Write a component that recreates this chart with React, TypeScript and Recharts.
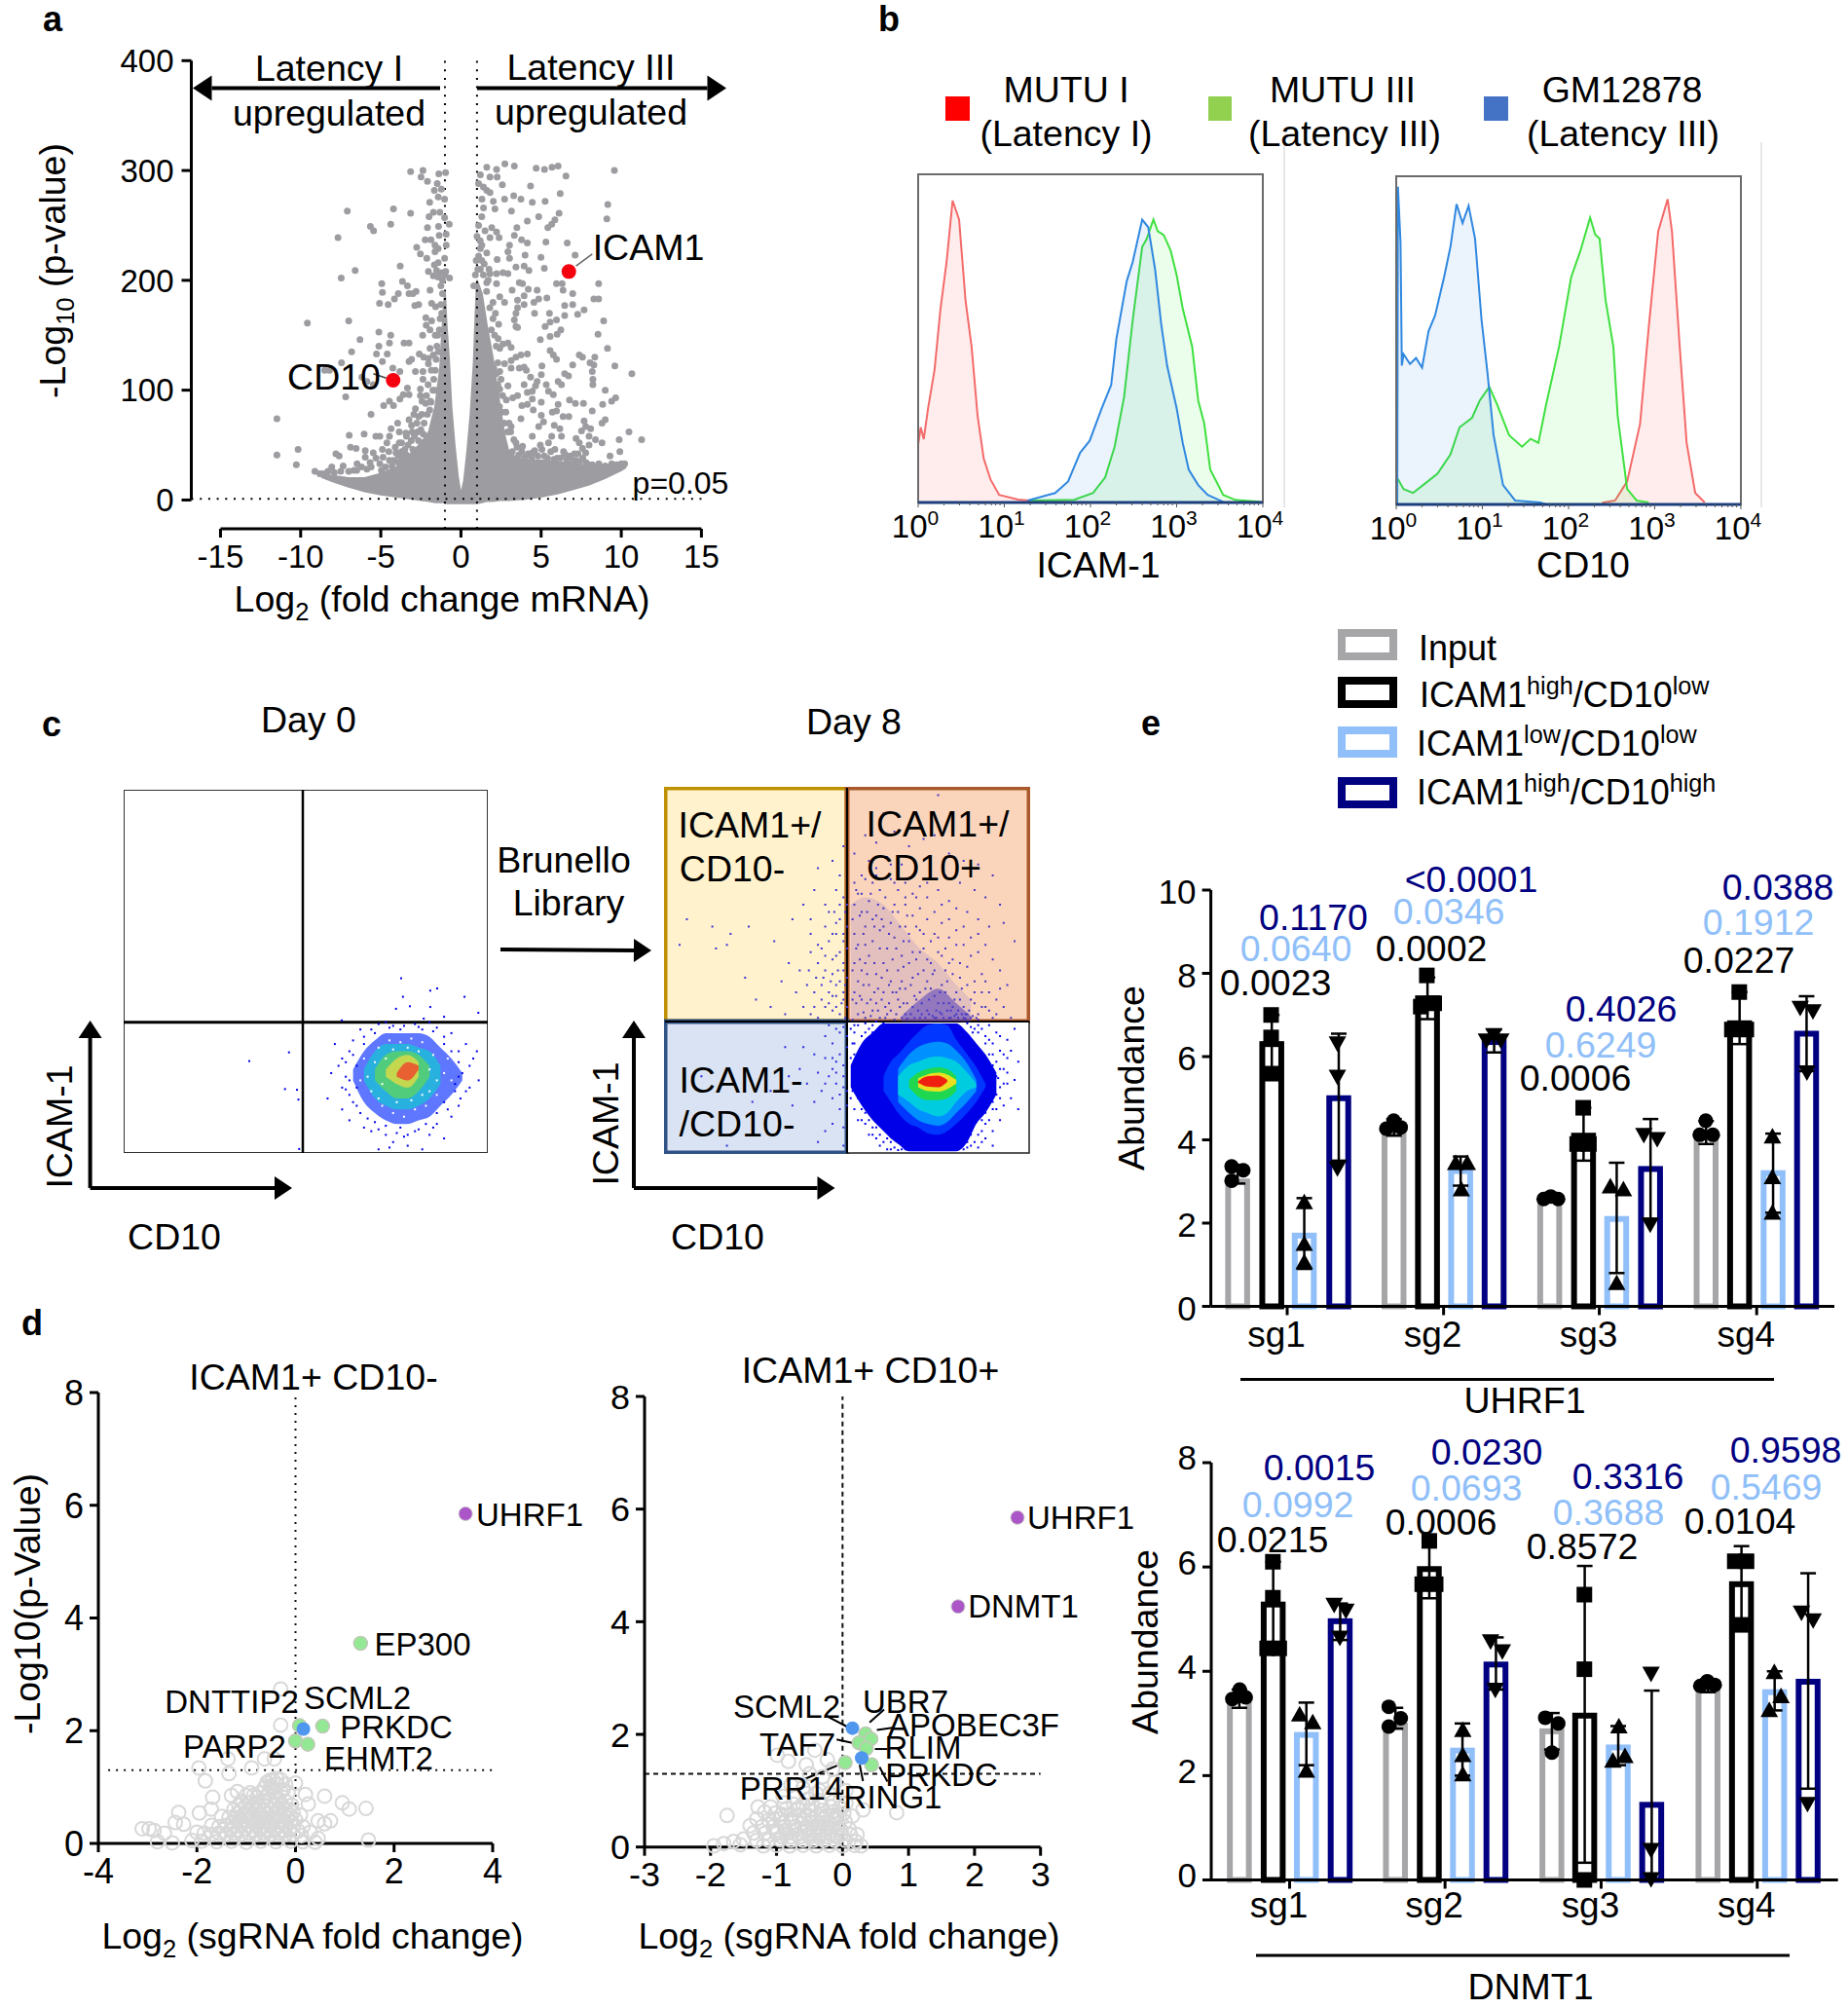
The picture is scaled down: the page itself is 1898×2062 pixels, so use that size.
import React from 'react';
import {
  ComposedChart, Area, Bar, Scatter, XAxis, YAxis, ReferenceLine, ReferenceArea, ErrorBar,
} from 'recharts';

const FONT = '"Liberation Sans", Arial, sans-serif';

// panel a: volcano, log2 fold change against -log10 p
const volcanoBandX = [-8.7, -8, -7, -6, -5, -4, -3, -2.5, -2, -1.6, -1.3, -1.1, -1, -0.9, -0.75, -0.6, -0.4, -0.2, -0.05, 0.05, 0.2, 0.4, 0.6, 0.8, 0.9, 1, 1.3, 1.6, 2, 2.4, 2.7, 3, 4, 5, 6, 7, 8, 9, 10, 10.3];
const volcanoBandLow = [21, 17, 12, 8, 5, 3, 1, 0, -1, -2, -2, -2, -3, -3, -3, -3, -3, -3, -3, -3, -3, -3, -3, -3, -3, -3, -2, -1, -1, 0, 0, 0, 1, 3, 6, 10, 14, 20, 27, 30];
const volcanoBandHigh = [24, 22, 20, 20, 24, 30, 44, 52, 62, 85, 120, 170, 190, 160, 128, 85, 50, 22, 8, 8, 18, 45, 78, 125, 165, 200, 188, 160, 128, 88, 60, 42, 36, 36, 34, 34, 30, 30, 33, 34];
const volcanoLeft = [[-3.14,299],[-2.37,300],[-2.49,294],[-2.09,290],[-1.38,297],[-0.96,298],[-1.48,288],[-1.66,282],[-1.22,283],[-1.42,276],[-1.95,271],[-1.02,274],[-4.21,265],[-7.09,263],[-3.14,261],[-1.72,262],[-1.99,258],[-1.32,262],[-1.02,257],[-4.38,251],[-5.65,249],[-5.45,245],[-0.73,251],[-1.4,249],[-2.09,248],[-1.36,241],[-0.92,242],[-7.67,239],[-2.23,237],[-1.87,237],[-1.62,232],[-2.76,230],[-1.42,229],[-0.92,232],[-2.53,224],[-2.13,220],[-1.62,226],[-1.02,220],[-1.66,214],[-1.42,216],[-3.79,213],[-6.6,209],[-2.03,208],[-1.52,209],[-1.22,207],[-1.72,204],[-1.42,203],[-1.02,205],[-0.71,202],[-7.47,202],[-3.65,199],[-3.34,195],[-4.94,197],[-4.9,189],[-3.91,188],[-3.24,188],[-3,188],[-2.8,190],[-1.93,191],[-4.15,183],[-5.08,179],[-4.54,178],[-2.88,177],[-2.64,178],[-1.83,179],[-1.58,176],[-2.19,166],[-1.83,163],[-9.58,161],[-7,163],[-2.17,159],[-1.93,155],[-5.12,153],[-4.38,150],[-2.39,150],[-3.55,143],[-3.24,143],[-4.46,143],[-6.3,146],[-5.12,140],[-6.82,135],[-5.27,133],[-4.6,133],[-1.93,138],[-2.6,133],[-2.33,130],[-2.03,129],[-3.08,128],[-4.9,126],[-7.45,125],[-3.24,126],[-2.03,124],[-4.25,120],[-3.81,117],[-8.5,118],[-8.2,118],[-2.84,117],[-2.37,117],[-6.18,112],[-2.37,110],[-5.87,108],[-5.47,105],[-2.53,101],[-3.34,102],[-3.6,96],[-3.81,92],[-3.24,96],[-2.53,95],[-2.43,90],[-7.19,94],[-4.82,86],[-4.46,90],[-4.21,86],[-1.87,89],[-5.61,78],[-2.84,83],[-2.94,78],[-3.24,73],[-2.64,76],[-11.48,74],[-3.95,70],[-3.08,68],[-4.36,65],[-3.85,62],[-6.04,60],[-6.97,59],[-5.31,58],[-5.06,58],[-4.46,58],[-3.44,61],[-4.62,52],[-3.85,52],[-6.89,48],[-6.54,47],[-10.16,46],[-5.97,45],[-11.48,41],[-7.8,42],[-7.6,40],[-5.47,43],[-4.86,39],[-4.05,43],[-5.97,39],[-6.48,33],[-10.27,32],[-8.06,30],[-7.35,31],[-5.67,34],[-5.06,33],[-4.46,36],[-6.68,27],[-9.11,26],[-8.8,24],[-8.6,24],[-5.87,28],[-4.96,27],[-3.65,38],[-4.25,25]];
const volcanoLeftDense = [[-1.45,150],[-1.5,140],[-1.55,128],[-1.4,135],[-1.3,165],[-1.2,170],[-1.25,178],[-1.15,188],[-1.35,155],[-1.6,118],[-1.7,110],[-1.75,100],[-1.9,90],[-1.95,82],[-2.1,78],[-2.3,70],[-2.5,64],[-2.7,62],[-2.9,58],[-3.1,54],[-3.3,50],[-3.5,46],[-3.7,44],[-3.9,40],[-4.2,36],[-1.15,200],[-0.95,208],[-1.25,195],[-1.6,150],[-1.72,132],[-1.85,118],[-1.62,100],[-2.15,95],[-2.05,105],[-2.2,88],[-2.45,78],[-2.75,70],[-3.05,62],[-3.4,58],[-3.7,52],[-4.1,48],[-4.5,44],[-4.9,46],[-5.3,38],[-5.6,30],[-6.2,30],[-6.5,27],[-7,26],[-7.5,26],[-7.9,25],[-8.3,26],[-4.7,30],[-4.3,31],[-3.9,34],[-3.4,41],[-3,46],[-2.65,54],[-2.35,60]];
const volcanoRight = [[2.74,306],[3.33,304],[2.22,301],[4.69,302],[5.21,301],[5.68,303],[6.06,304],[9.57,300],[6.55,295],[1.61,303],[1.21,296],[1.81,294],[2.26,294],[2.58,287],[4.34,286],[1.61,282],[1.81,280],[6.19,279],[3.29,277],[3.74,274],[2.72,274],[4.45,271],[5.25,272],[1.31,274],[2.02,272],[1.41,266],[2.12,265],[9.16,269],[3.15,263],[6.12,261],[4.85,258],[9.1,256],[5.86,255],[4.14,254],[5.66,251],[5.42,248],[3.49,248],[1.92,248],[2.22,244],[3.33,241],[1,240],[2.38,239],[1.81,239],[3.78,237],[4.14,234],[5.3,235],[6.63,234],[3.03,232],[2.93,226],[1.21,229],[1.61,225],[7.12,223],[4,223],[4.99,221],[3.03,220],[2.26,219],[3.94,213],[3.43,212],[5.2,211],[4.24,209],[1.21,210],[2.22,206],[2.62,207],[2.93,206],[1.81,206],[1.61,198],[2.22,197],[8.59,197],[3.64,198],[3.84,197],[5.96,197],[6.31,197],[6.37,191],[6.97,188],[3.19,191],[4.2,192],[4.75,191],[0.8,195],[3.94,186],[3.53,182],[2.42,185],[2.72,180],[5.36,184],[4.85,183],[4.55,180],[8.29,183],[8.59,183],[6.97,178],[6.47,177],[3.94,178],[3.53,175],[7.68,173],[3.43,170],[4.59,170],[5.52,170],[7.28,169],[6.47,168],[3.33,164],[5.96,164],[5.56,162],[8.9,163],[5.25,158],[3.43,158],[3.53,157],[6.23,155],[8.55,151],[5.56,149],[6,151],[4.95,146],[2.32,147],[2.62,142],[2.93,143],[3.13,139],[2.42,138],[9.14,138],[5.56,136],[5.76,132],[4.14,133],[3.74,132],[3.43,130],[7.38,132],[7.58,130],[5.96,128],[8.35,130],[3.13,127],[2.72,124],[8.05,125],[8.29,123],[6.97,123],[5.05,122],[9.6,122],[3.13,120],[3.94,121],[4.08,118],[3.64,120],[2.42,117],[6.47,115],[6.71,113],[10.66,115],[8.19,117],[5.01,114],[4.34,112],[8.23,110],[4.75,108],[6.06,108],[6.27,105],[5.32,105],[3.94,105],[8.23,105],[4.65,104],[2.93,104],[2.42,101],[2.22,98],[4.45,99],[4.14,98],[9,100],[5.46,99],[5.76,96],[3.53,95],[3.23,93],[2.83,91],[4.45,92],[5.01,89],[6.77,91],[7.14,88],[7.64,88],[9.65,93],[9.4,90],[8.84,87],[4.14,87],[6.06,87],[3.8,86],[5.96,81],[5.7,80],[4.51,82],[8.19,81],[5.01,77],[6.37,76],[6.73,76],[3.74,74],[9,73],[8.8,70],[7.68,72],[5.15,71],[4.85,67],[5.82,68],[6.17,65],[3.13,67],[7.78,67],[8.09,65],[7.52,63],[10.48,62],[11.27,55],[9.87,55],[4.45,58],[5.66,58],[6.27,58],[7.99,58],[8.39,55],[7.18,56],[8.8,52],[7.38,52],[4.95,50],[5.46,52],[7.99,50],[9.91,44],[5.86,46],[7.78,43],[7.58,47],[4.45,43],[6.47,42],[7.08,42],[9.3,40],[5.05,46],[7.18,36],[3.84,49],[3.43,52],[10.21,33],[9.81,30],[1.1,288],[1.4,285],[1.3,258],[1.1,250],[1.5,245],[1.2,236],[1.3,218]];
const volcanoRightDense = [[1.6,190],[1.8,175],[2,165],[2.1,150],[2.2,140],[2,180],[1.7,200],[1.4,205],[1.9,155],[2.3,125],[2.5,110],[2.6,95],[2.4,85],[2.8,80],[3,70],[3.1,62],[3.3,55],[3.5,48],[3.8,44],[4.2,42],[4.6,45],[5.2,40],[5.6,44],[6,38],[6.4,44],[6.8,40],[7.3,42],[7.6,38],[8,32],[8.4,30],[8.8,30],[1.3,232],[1.1,222],[0.95,218],[1.45,215],[1.75,210],[2.15,170],[2.35,160],[2.05,120],[2.3,105],[2.55,80],[2.7,70],[2.9,62],[2.2,115],[3.2,44],[3.6,41],[4,39],[4.4,38],[4.8,40],[5.4,38],[5.8,37],[6.2,38],[6.6,37],[7,36],[7.4,35],[7.8,34],[8.2,32],[8.6,33],[9,31],[9.4,33],[9.7,32],[10,33],[0.9,205],[1.05,210]];
const volcanoHighlights = [[-4.23,109],[6.73,208]];

// panel b: histograms, log10 intensity against % of max
const icamMutu1 = [[0,17.6],[0.03,22.9],[0.065,19.3],[0.115,28.7],[0.19,40.4],[0.26,59.2],[0.33,73.3],[0.4,92],[0.475,86.2],[0.55,61.5],[0.62,47.5],[0.69,26.4],[0.76,13.5],[0.84,7],[0.94,2.3],[1.16,0.9],[1.45,0.2],[1.81,0]];
const icamMutu3 = [[1.3,0.6],[1.81,0.8],[2.03,2.9],[2.17,7.6],[2.28,17],[2.39,32.2],[2.49,55.6],[2.6,77.9],[2.65,80.2],[2.73,86.2],[2.78,82.7],[2.85,81.5],[2.93,76.8],[3,69.3],[3.07,59.2],[3.18,47.5],[3.25,31.1],[3.32,24.1],[3.39,10],[3.54,2.3],[3.68,0.8],[3.97,0.2]];
const icamGm = [[1.27,0.6],[1.59,2.9],[1.74,6.4],[1.88,15.2],[1.99,18.8],[2.13,28.7],[2.24,35.8],[2.3,49.8],[2.42,67.4],[2.49,73.3],[2.6,86.2],[2.67,83.9],[2.75,71],[2.82,54.5],[2.89,41.6],[3,28.7],[3.07,18.2],[3.14,10],[3.25,5.3],[3.36,2.3],[3.54,0.2]];
const cd10Mutu1 = [[2.39,0.5],[2.54,1.2],[2.68,7],[2.83,24.6],[2.93,53.9],[3.04,83.2],[3.15,93],[3.2,83.2],[3.29,48.1],[3.37,18.8],[3.47,3.5],[3.58,0.6]];
const cd10Mutu3 = [[0.01,8.2],[0.085,4.7],[0.195,3.5],[0.34,6.5],[0.48,9.4],[0.63,15.3],[0.735,23.5],[0.88,26.4],[0.97,31.7],[1.08,35.8],[1.17,30.5],[1.31,21.1],[1.46,17.6],[1.56,20],[1.65,18.8],[1.74,30.5],[1.89,48.1],[2.03,69.2],[2.14,77.5],[2.25,87.4],[2.31,82.2],[2.36,81],[2.43,62.2],[2.52,48.1],[2.57,27],[2.68,4.7],[2.79,1.2],[2.93,0.6]];
const cd10Gm = [[0.012,0],[0.02,96.8],[0.05,79.8],[0.065,42.3],[0.085,45.8],[0.16,42.8],[0.23,44.6],[0.3,41.7],[0.375,52.8],[0.45,57.5],[0.555,69.2],[0.63,78.6],[0.7,91.5],[0.77,85.7],[0.84,91],[0.915,81],[0.99,56.3],[1.06,39.9],[1.13,21.1],[1.24,5.9],[1.38,1.2],[1.67,0.6],[1.74,0]];
const logTicks = [0, 0.3, 0.48, 0.6, 0.7, 0.78, 0.85, 0.9, 0.95, 1, 1.3, 1.48, 1.6, 1.7, 1.78, 1.85, 1.9, 1.95, 2, 2.3, 2.48, 2.6, 2.7, 2.78, 2.85, 2.9, 2.95, 3, 3.3, 3.48, 3.6, 3.7, 3.78, 3.85, 3.9, 3.95, 4];

// panel c: density bands are [low, high] at each CD10 column, speckle is read point by point
const day0X = [63, 66, 69, 72, 75, 78, 81, 84, 87, 90, 93];
const day0Blue = [[20,23],[14,28],[11,31],[9,33],[8,33],[8,33],[9,33],[10,32],[13,29],[16,26],[20,22]];
const day0Cyan = [null,[20,23],[15,28],[13,30],[12,30],[12,30],[13,29],[15,28],[19,24],null,null];
const day0Green = [null,null,[20,23],[17,27],[15,28],[15,28],[17,27],[21,24],null,null,null];
const day0Yellow = [null,null,null,[21,23],[19,26],[18,27],[21,25],null,null,null,null];
const day0Red = [null,null,null,null,[21,22],[20,25],[23,24],null,null,null,null];
const day0Dots = [[76.2,48.1],[86.1,45.3],[84.2,44.7],[76.7,43],[93.6,43],[78.6,40.4],[74.8,39.7],[84.2,40.2],[97.4,38.6],[88,37.5],[82.4,37],[59.9,36.5],[34.5,25.3],[45.4,27.7],[44.3,17.6],[47.6,17.4],[48,14.7],[48.2,1.1],[58,30],[60,26],[57,22],[60,18],[56,15],[63,31],[65,34],[70,35.5],[74,35],[80,35.5],[86,34.5],[90,33],[94,30],[97,28],[95,24],[97.5,20],[94,17],[92,13],[90,10],[86,8],[84,5],[80,6],[76,7],[72,5],[70,1],[66,7],[62,9],[60,12],[64,13],[68,6],[74,3],[78,2],[82,1],[88,4],[59,24],[62,16],[66,32],[92,28],[91,19],[93,22],[96,26],[62,28],[68,34],[72,36],[76,34],[82,34],[84,36],[88,32],[73,1.5],[77,4.5],[69,8.5],[85,7],[89,12],[61,21],[64,24],[92.5,15],[95,18],[61,25],[62,20],[63,14],[65,11],[67,9.5],[70,6.5],[72,7.5],[75,5.5],[78,5],[81,6.5],[83,8],[86,11],[88,14],[91,17],[92,21],[92,25],[90,28],[88,30],[85,33.5],[81,34.7],[77,35],[73,34.5],[69,33],[66,30],[63,27],[64,18],[61,17.5]];
const day0Gaps = [[66,26],[68,17],[70,29],[71,13],[73,31],[74,11],[76,30.5],[77,10],[79,31.5],[80,12],[82,30.5],[83,13],[85,27],[86,16],[88,22],[89,26],[67,21],[69,25],[71,19],[86,20],[84,23],[75,14],[79,14.5],[82,16],[72,26],[84,17],[65,20],[90,20],[70,15],[74,28.5],[78,29],[81,28]];
const day8X = [51, 54, 57, 60, 62, 64, 67, 69.5, 72, 75, 77.5, 80, 83, 85.5, 88, 91];
const day8Navy = [[18,24],[13,30],[9,33],[6,35.5],[4,35.5],[2.5,35.5],[0.5,35.5],[0.5,35.5],[0.5,35.5],[0.5,35.5],[0.5,35.5],[0.5,35.5],[3,33],[8,30],[11,27],[16,22]];
const day8Blue = [null,null,null,[17,21],[14,25],[11,27],[8,30.5],[7,33],[5.5,35],[5,35.5],[6,35],[8,31],[11,27],[14,23.5],[18,19],null];
const day8Azure = [null,null,null,null,null,[14,23],[11,27],[9,29],[8,30],[7.5,30.5],[8.5,30],[11,28],[14,24.5],[17,20],null,null];
const day8Cyan = [null,null,null,null,null,[16,21],[14,24],[12,25],[11,26],[10,26.5],[11,26],[14,25],[17,22],[18,19],null,null];
const day8Green = [null,null,null,null,null,null,[18,20],[15.5,22],[14.5,23],[14.5,23.5],[15,23],[17,21],null,null,null,null];
const day8Yellow = [null,null,null,null,null,null,null,[18,20.5],[17,21.5],[16.8,22],[17.5,21.5],[19,20],null,null,null,null];
const day8Red = [null,null,null,null,null,null,null,[19.3,19.6],[18.2,21],[18,21.2],[19.5,20],null,null,null,null,null];
const day8VioletX = [51, 55, 60, 65, 70, 75, 80, 84];
const day8Violet = [[36,68],[36,70],[36,68],[36,62],[36,56],[36,52],[36,46],[36,42]];
const day8VioletDense = [null,null,null,[36,37.5],[36,42],[36,45],[36,41],[36,37.5]];
const day8UpperLeft = [[46,80],[47,72],[45,66],[41,72],[44,62],[46,60],[48,64],[49,58],[38,68],[35,64],[43,56],[47,54],[49,52],[40,55],[42,52],[44,50],[46,49],[48,47],[49.5,46],[37,50],[34,52],[39,46],[41,44],[43,46],[45,44],[47,43],[49,42],[36,44],[32,47],[30,58],[44,40],[46,39],[48,38],[40,38],[42,37],[38,40],[25,42],[22,48],[18,60],[13,62],[6,64],[4,57],[17,57],[23,62],[14,56],[49,70],[48,76],[49,84],[42,78],[50,68],[50,56],[50,48],[50,40],[29,40],[33,38],[49.5,37],[48,68],[46.5,66],[45,58],[47,60],[49,60],[48,55],[46,53],[44,54],[42,57],[40,60],[47.5,50],[45.5,47],[43.5,48],[41.5,48],[39.5,50],[49,50],[47,46],[45,41],[43,42],[41,40],[49,44],[47,40],[48.5,41],[46,43],[50,62],[49.5,66],[47,63],[44,68],[40,64]];
const day8LowerLeft = [[48,33],[44,32],[46,30],[50,29],[38,29],[41,27],[44,26],[47,25],[49,24],[37,23],[42,22],[45,21],[47,19],[49,18],[39,19],[34,21],[43,17],[46,15],[50,13],[48,12],[41,14],[35,13],[29,17],[24,14],[10,21],[46,8],[49,7],[44,6],[17,2],[42,3],[49,2],[33,29],[49,34.5],[47,34],[45,35],[50,32],[48,27],[46,26],[49,21],[44,19],[46,23],[48,16],[47,22],[50,17]];
const day8UpperRight = [[75,98],[60,93],[55,87],[58,85],[63,88],[67,84],[71,86],[74,87],[78,82],[82,80],[86,79],[90,76],[52,82],[56,80],[61,81],[65,79],[69,77],[73,79],[77,76],[81,74],[85,72],[88,70],[92,68],[52,74],[54,76],[57,74],[59,72],[62,75],[64,72],[66,74],[68,71],[70,73],[72,70],[75,72],[78,69],[80,67],[83,66],[86,64],[89,62],[93,63],[96,58],[52,68],[54,66],[56,69],[58,65],[60,67],[62,63],[64,66],[66,62],[68,65],[70,61],[72,64],[74,60],[76,63],[78,59],[80,61],[82,57],[84,59],[86,55],[88,57],[90,53],[92,50],[94,46],[52,60],[53,57],[55,62],[57,58],[59,61],[61,56],[63,59],[65,54],[67,58],[69,53],[71,56],[73,52],[75,55],[77,50],[79,53],[81,48],[83,51],[85,47],[87,49],[89,44],[91,42],[93,40],[52,52],[54,50],[56,54],[58,49],[60,52],[62,47],[64,50],[66,45],[68,48],[70,44],[72,47],[74,43],[76,46],[78,41],[80,44],[82,40],[84,42],[86,38],[88,40],[90,37],[95,37],[52,44],[54,42],[56,46],[58,41],[60,44],[62,39],[64,42],[66,38],[68,40],[70,37],[72,39],[74,37],[76,38],[78,37],[80,38],[82,37],[84,37],[86,36.5],[53,38],[55,37],[57,39],[59,37],[61,38],[63,36.5],[65,37],[53,47],[55,52],[57,64],[59,56],[61,50],[63,68],[65,47],[67,52],[69,42],[71,50],[73,45],[75,41],[77,44],[79,40],[81,42],[83,38],[85,41],[87,44],[53,71],[55,57],[51.5,64],[51.5,50],[51.5,42],[51.5,36.5],[66,68],[70,67],[74,66],[78,64],[82,62],[86,60]];
const day8UpperRightDense = [[52.5,72],[53.5,65],[54.5,60],[55.5,66],[56.5,71],[57.5,62],[58.5,68],[59.5,64],[60.5,70],[61.5,60],[62.5,66],[63.5,56],[64.5,62],[65.5,58],[66.5,65],[52.5,56],[53.5,53],[54.5,46],[55.5,49],[56.5,42],[57.5,52],[58.5,45],[59.5,48],[60.5,40],[61.5,46],[62.5,53],[63.5,44],[64.5,40],[65.5,51],[66.5,41],[67.5,46],[68.5,43],[69.5,49],[70.5,41],[71.5,45],[72.5,42],[73.5,49],[74.5,39],[75.5,44],[76.5,41],[77.5,47],[78.5,39],[79.5,42],[80.5,39],[81.5,45],[82.5,38],[52.5,41],[53.5,43],[54.5,38.5],[55.5,41],[56.5,37.5],[57.5,44],[58.5,39],[59.5,42],[60.5,37],[61.5,41],[62.5,44],[63.5,38],[64.5,45],[65.5,41],[66.5,36.8],[67.5,38],[68.5,37],[69.5,39],[70.5,38],[71.5,37],[72.5,38],[73.5,37.5],[74.5,37],[75.5,38.5],[76.5,37],[77.5,39],[78.5,37],[79.5,37.5],[80.5,37],[81.5,38],[82.5,36.8],[83.5,39],[84.5,37.5],[85.5,37],[68,55],[70,55],[72,53],[74,50],[76,54],[78,52],[67,60],[69,62],[71,60],[73,58],[75,59],[77,56],[79,49],[81,52],[83,46],[85,44],[87,40],[89,39],[91,38],[92,45],[55,75],[58,78],[62,79],[66,70],[69,70],[54,71],[58,76],[60,62],[63,74],[72,74],[76,68],[80,57],[84,54],[88,47]];
const day8LowerRight = [[51,34],[53,35],[55,33],[57,35],[59,34],[51.5,30],[52,27],[51,26],[52.5,23],[51,15],[52,12],[53,9],[55,8],[56,5],[58,4],[59,2],[61,1],[63,1.5],[82,1],[84,2],[86,1.5],[88,4],[90,6],[92,9],[91,12],[93,13],[95,15],[92,18],[94,19],[96,20],[93,23],[91,25],[94,26],[92,28],[90,30],[88,32],[91,33],[94,31],[96,34],[86,35],[89,35],[83,35.5],[97,25],[86,5],[85,8],[88,8],[90,12],[57,7],[54,12],[52,19],[62,3],[97,12],[90,2],[58,36],[87,3],[52,33],[54,32],[56,31],[58,32],[60,33],[52,30],[54,29],[56,34],[53,25],[53,15],[54,9],[55,11],[56,9],[57,5],[58,7],[59,5],[60,3],[61,4],[62,1],[64,0.8],[65,1],[83,3],[84,5],[85,3],[87,6],[88,11],[89,9],[90,14],[91,16],[92,15],[93,19],[91,21],[92,23],[93,27],[89,27],[90,27],[88,30],[89,31],[86,33],[87,34],[85,34],[84,34.5],[84.5,33],[51.5,20],[51.5,17],[52,35],[55,35.5],[57,33],[60,35.5],[92,32],[95,28],[94,22],[90,24],[91.5,20.5],[83,1.5],[81,2],[66,1],[87,9],[86,11.5]];

// panel d: sgRNA volcanoes
const sgLeftGray = [[-0.3,2.74],[-0.3,2.1],[-1.37,1.5],[-0.63,1.5],[-0.43,1.5],[-1.96,1.34],[-0.89,1.34],[-1.35,1.24],[-1.83,1.11],[-0.46,1.13],[-0.3,1.13],[-0.2,1.05],[0,1.07],[0.59,0.84],[0.95,0.72],[1.09,0.61],[1.43,0.62],[1.48,0.06],[0.26,0.7],[0.2,0.87],[-1.68,0.82],[-2.37,0.55],[-2.44,0.37],[-2.27,0.34],[-3.11,0.26],[-2.97,0.26],[-2.87,0.23],[-2.66,0.18],[-2.8,0.03],[-2.5,0.01],[-1.95,0.54],[-1.71,0.61],[0.71,0.4],[0.59,0.35],[0.46,0.4],[0.46,0.09],[-0.5,1.02],[-0.38,1.05],[-0.62,1.0],[-0.25,0.95],[-0.42,0.9],[-0.55,0.88],[-0.72,0.9],[-0.85,0.85],[-1.0,0.85],[-1.18,0.92],[-1.3,0.85],[-1.1,0.75],[-0.95,0.72],[-0.8,0.72],[-0.65,0.75],[-0.5,0.75],[-0.35,0.78],[-0.2,0.75],[-0.08,0.68],[-1.25,0.6],[-1.1,0.6],[-0.95,0.58],[-0.8,0.6],[-0.65,0.6],[-0.5,0.6],[-0.35,0.62],[-0.2,0.6],[-0.05,0.55],[0.1,0.5],[-1.5,0.48],[-1.35,0.46],[-1.2,0.46],[-1.05,0.48],[-0.9,0.45],[-0.75,0.46],[-0.6,0.46],[-0.45,0.46],[-0.3,0.48],[-0.15,0.45],[0,0.42],[0.15,0.3],[-1.7,0.32],[-1.55,0.3],[-1.4,0.32],[-1.25,0.3],[-1.1,0.33],[-0.95,0.32],[-0.8,0.32],[-0.65,0.3],[-0.5,0.32],[-0.35,0.3],[-0.2,0.32],[-0.05,0.3],[0.3,0.2],[-2.0,0.2],[-1.85,0.18],[-1.7,0.16],[-1.55,0.18],[-1.4,0.16],[-1.25,0.18],[-1.1,0.16],[-0.95,0.18],[-0.8,0.16],[-0.65,0.18],[-0.5,0.16],[-0.35,0.18],[-0.2,0.16],[-0.05,0.16],[0.12,0.14],[-2.1,0.05],[-1.9,0.04],[-1.6,0.03],[-1.3,0.04],[-1.0,0.02],[-0.7,0.04],[-0.4,0.03],[-0.1,0.04],[0.15,0.03],[0.4,0.02],[-1.15,0.68],[-1.02,0.66],[-0.88,0.65],[-0.74,0.66],[-0.58,0.67],[-0.42,0.68],[-0.28,0.68],[-0.12,0.6],[-1.18,0.53],[-1.03,0.53],[-0.87,0.52],[-0.72,0.53],[-0.56,0.53],[-0.4,0.54],[-0.25,0.54],[-0.1,0.5],[-1.28,0.38],[-1.12,0.39],[-0.97,0.39],[-0.82,0.39],[-0.67,0.38],[-0.52,0.39],[-0.38,0.38],[-0.22,0.39],[-0.08,0.38],[-1.32,0.24],[-1.17,0.24],[-1.02,0.25],[-0.87,0.24],[-0.72,0.24],[-0.57,0.25],[-0.42,0.24],[-0.27,0.24],[-0.12,0.24],[0.05,0.22],[-0.58,1.08],[-0.47,0.97],[-0.3,0.92],[-0.62,0.82],[-0.38,0.82],[-0.15,0.9],[-0.78,0.82],[-0.92,0.9],[-0.52,1.12],[-0.38,1.15]];
const sgLeftGreen = [[0.08,2.09],[0.55,2.08],[0,1.82],[0.25,1.76],[1.32,3.55]];
const sgLeftBlue = [[0.16,2.03]];
const sgLeftPurple = [[3.45,5.85]];
const sgRightGray = [[-0.99,1.63],[-0.82,1.52],[-0.55,1.46],[-0.23,1.55],[-0.42,1.72],[-1.75,0.56],[0.31,0.66],[0.82,0.61],[-1.28,0.71],[-1.09,0.71],[-0.78,1.1],[-0.6,1.05],[-0.35,1.0],[-0.2,0.95],[0.05,1.0],[-0.9,0.9],[-0.72,0.88],[-0.52,0.85],[-0.35,0.82],[-0.15,0.8],[0.05,0.78],[-1.18,0.62],[-1.02,0.6],[-0.85,0.68],[-0.68,0.68],[-0.5,0.66],[-0.32,0.65],[-0.15,0.62],[0.02,0.6],[0.15,0.55],[-1.3,0.5],[-1.12,0.48],[-0.95,0.5],[-0.78,0.5],[-0.6,0.5],[-0.44,0.5],[-0.28,0.5],[-0.12,0.48],[0.04,0.45],[-1.4,0.38],[-1.22,0.36],[-1.05,0.36],[-0.88,0.36],[-0.72,0.36],[-0.55,0.35],[-0.38,0.36],[-0.22,0.36],[-0.06,0.35],[0.1,0.32],[0.22,0.22],[-1.35,0.25],[-1.18,0.24],[-1.0,0.24],[-0.85,0.24],[-0.68,0.22],[-0.5,0.24],[-0.34,0.24],[-0.18,0.24],[-0.02,0.22],[-1.5,0.14],[-1.3,0.12],[-1.12,0.12],[-0.95,0.13],[-0.78,0.12],[-0.6,0.12],[-0.44,0.12],[-0.28,0.12],[-0.12,0.12],[0.04,0.12],[0.2,0.1],[-1.95,0.02],[-1.8,0.06],[-1.65,0.1],[-1.55,0.04],[-1.2,0.02],[-1.0,0.03],[-0.8,0.02],[-0.6,0.03],[-0.4,0.02],[-0.2,0.03],[0,0.02],[0.18,0.03],[0.28,0.02],[-0.88,0.78],[-0.74,0.76],[-0.6,0.76],[-0.46,0.75],[-0.32,0.74],[-0.18,0.72],[-0.04,0.7],[-1.05,0.5],[-0.9,0.43],[-0.76,0.43],[-0.62,0.42],[-0.48,0.43],[-0.34,0.43],[-0.2,0.43],[-0.06,0.42],[-1.0,0.3],[-0.86,0.3],[-0.72,0.3],[-0.58,0.29],[-0.44,0.3],[-0.3,0.3],[-0.16,0.3],[-0.02,0.3],[0.12,0.22],[-0.92,0.18],[-0.78,0.18],[-0.64,0.18],[-0.5,0.17],[-0.36,0.18],[-0.22,0.18],[-0.08,0.18],[-0.66,0.56],[-0.52,0.56],[-0.38,0.56],[-0.24,0.56],[-0.1,0.55],[-0.78,0.58],[-0.92,0.58],[-0.4,0.95],[-0.55,0.95],[-0.12,1.15],[-0.3,1.25],[-0.15,1.38],[-0.5,1.3]];
const sgRightGreen = [[0.35,2.01],[0.43,1.92],[0.25,1.85],[0.36,1.75],[0.44,1.46],[0.04,1.5]];
const sgRightBlue = [[0.15,2.11],[0.29,1.58]];
const sgRightPurple = [[2.65,5.85],[1.75,4.27]];
const sgRightLeaders = [
  [[-0.25,2.33],[0.08,2.13]],[[0.63,2.44],[0.41,2.21]],[[0.78,2.12],[0.52,2.08]],[[-0.09,1.91],[0.18,1.84]],
  [[0.68,1.74],[0.49,1.74]],[[-0.57,1.21],[-0.03,1.47]],[[0.31,1.17],[0.26,1.46]],[[0.68,1.16],[0.56,1.42]],
];

// panel e: abundance per sgRNA
const sgNames = ['sg1', 'sg2', 'sg3', 'sg4'];
const seriesColors = ['#a6a6a9', '#000000', '#90bff9', '#000080'];
const uhrfPositions = [0.8, 1.82, 2.79, 3.82, 5.47, 6.47, 7.46, 8.46, 10.12, 11.13, 12.12, 13.13, 14.79, 15.79, 16.79, 17.79];
const uhrfValues = [3.0, 6.3, 1.7, 5.0, 4.2, 7.4, 3.25, 6.35, 2.55, 4.1, 2.1, 3.3, 4.1, 6.8, 3.2, 6.55];
const uhrfHigh = [3.4, 7.0, 2.6, 6.55, 4.5, 7.9, 3.6, 6.65, 2.65, 4.77, 3.45, 4.5, 4.45, 7.55, 4.15, 7.45];
const uhrfLow = [2.95, 5.5, 0.9, 3.5, 4.1, 6.9, 2.9, 6.1, 2.5, 3.5, 0.8, 2.1, 3.9, 6.3, 2.25, 5.65];
const uhrfInput = [[0.62,3.36],[0.97,3.27],[0.62,3.02],[5.24,4.27],[5.46,4.46],[5.67,4.3],[9.94,2.58],[10.15,2.64],[10.37,2.58],[14.6,4.12],[14.78,4.46],[14.99,4.12]];
const uhrfHighLowPts = [[1.8,7.0],[1.8,6.46],[1.8,5.59],[6.27,7.2],[6.67,7.28],[6.45,7.95],[10.94,3.9],[11.29,3.9],[11.12,4.77],[15.56,6.65],[15.99,6.65],[15.78,7.55]];
const uhrfLowLowPts = [[2.79,2.52],[2.79,1.52],[2.79,1.08],[7.31,3.46],[7.66,3.46],[7.48,2.83],[11.93,2.9],[12.32,2.83],[12.12,0.58],[16.77,4.1],[16.77,3.12],[16.77,2.27]];
const uhrfHighHighPts = [[3.78,6.3],[3.78,5.5],[3.78,3.3],[8.23,6.37],[8.66,6.37],[8.45,6.5],[12.93,4.1],[13.33,4.0],[13.12,1.95],[17.6,7.15],[17.98,7.07],[17.8,5.6]];
const uhrfTicks = [2.28, 6.95, 11.6, 16.3];
const dnmtPositions = [0.84, 1.85, 2.84, 3.85, 5.5, 6.51, 7.5, 8.5, 10.17, 11.15, 12.15, 13.15, 14.83, 15.83, 16.82, 17.82];
const dnmtValues = [3.44, 5.28, 2.78, 4.96, 2.96, 5.96, 2.48, 4.13, 2.85, 3.15, 2.54, 1.44, 3.63, 5.67, 3.6, 3.8];
const dnmtHigh = [3.65, 6.1, 3.4, 5.3, 3.3, 6.5, 3.0, 4.65, 3.2, 6.02, 2.95, 3.63, 3.85, 6.4, 4.0, 5.88];
const dnmtLow = [3.3, 4.45, 2.2, 4.6, 2.9, 5.4, 2.0, 3.65, 2.5, 0.33, 2.2, 0, 3.6, 4.95, 3.25, 1.75];
const dnmtInput = [[0.63,3.47],[0.85,3.65],[1.03,3.5],[5.3,3.32],[5.66,3.1],[5.3,2.94],[9.97,3.11],[10.36,3.0],[10.17,2.44],[14.6,3.72],[14.81,3.81],[15.03,3.74]];
const dnmtHighLowPts = [[1.84,6.1],[1.84,5.41],[1.67,4.44],[2.03,4.44],[6.51,6.5],[6.3,5.67],[6.7,5.67],[11.14,5.47],[11.14,4.04],[11.14,0],[15.63,6.11],[15.98,6.11],[15.81,4.89]];
const dnmtLowLowPts = [[2.64,3.19],[3.03,3.04],[2.84,2.11],[7.51,2.89],[7.51,2.41],[7.51,2.04],[11.99,2.3],[12.35,2.39],[12.17,2.96],[16.81,4.0],[17.01,3.54],[16.66,3.27]];
const dnmtHighHighPts = [[3.67,5.26],[4.02,5.15],[3.84,4.63],[8.34,4.56],[8.69,4.37],[8.48,3.63],[13.13,3.94],[13.13,0.56],[13.13,0],[17.62,5.11],[17.97,4.96],[17.8,1.44]];
const dnmtTicks = [2.34, 6.98, 11.64, 16.3];

const toRows = (pts: number[][]) => pts.map(([x, y]) => ({ x, y }));
const dot = (fill: string, r: number, stroke = 'none', sw = 0) => (p: any) => (
  <circle cx={p.cx} cy={p.cy} r={r} fill={fill} stroke={stroke} strokeWidth={sw} />
);
const pixel = (fill: string) => (p: any) => <rect x={p.cx - 1} y={p.cy - 1} width={2} height={2} fill={fill} />;
const square = (p: any) => <rect x={p.cx - 8} y={p.cy - 8} width={16} height={16} fill="#000" />;
const triUp = (p: any) => <polygon points={`${p.cx - 9},${p.cy + 8} ${p.cx + 9},${p.cy + 8} ${p.cx},${p.cy - 8}`} fill="#000" />;
const triDown = (p: any) => <polygon points={`${p.cx - 9},${p.cy - 8} ${p.cx + 9},${p.cy - 8} ${p.cx},${p.cy + 8}`} fill="#000" />;
// bars keep the scale's x centre and height, with a fixed outline width
const outlineBar = (p: any) => (
  <rect x={p.x + p.width / 2 - 9.75} y={p.y} width={19.5} height={p.height} fill="#fff" stroke={seriesColors[p.index % 4]} strokeWidth={6} />
);

const T = ({ x, y, size = 37.5, rot = 0, bold = false, color = '#000', children }: any) => (
  <div style={{
    position: 'absolute', left: x, top: y, transform: `translate(-50%,-50%) rotate(${rot}deg)`, whiteSpace: 'nowrap',
    fontFamily: FONT, fontSize: size, fontWeight: bold ? 700 : 400, color, lineHeight: 1,
  }}>{children}</div>
);
const Sub = ({ children }: any) => <sub style={{ fontSize: '0.68em', lineHeight: 0 }}>{children}</sub>;
const Sup = ({ children }: any) => <sup style={{ fontSize: '0.7em', lineHeight: 0 }}>{children}</sup>;
const At = ({ x, y, children }: any) => <div style={{ position: 'absolute', left: x, top: y }}>{children}</div>;

const tickStyle = { fill: '#000', fontSize: 33, fontFamily: FONT };
const axisStroke = { stroke: '#000', strokeWidth: 3 };

const volcanoBandRows = volcanoBandX.map((x, i) => ({ x, band: [volcanoBandLow[i], volcanoBandHigh[i]] }));

const VolcanoChart = () => (
  <ComposedChart width={650} height={600} data={volcanoBandRows} margin={{ top: 22.3, right: 29.6, bottom: 0, left: 0 }}>
    <XAxis dataKey="x" type="number" domain={[-16.82, 15]} ticks={[-15, -10, -5, 0, 5, 10, 15]} interval={0} height={97} tick={tickStyle} tickLine={axisStroke} axisLine={false} tickSize={9} tickMargin={8} allowDataOverflow />
    <YAxis type="number" domain={[-26.2, 400]} ticks={[0, 100, 200, 300, 400]} interval={0} width={96.5} tick={tickStyle} tickLine={axisStroke} axisLine={false} tickSize={10} tickMargin={8} allowDataOverflow />
    <Area dataKey="band" type="linear" fill="#9d9da1" fillOpacity={1} stroke="#9d9da1" strokeWidth={2} dot={false} activeDot={false} isAnimationActive={false} />
    <Scatter data={toRows(volcanoLeft)} dataKey="y" shape={dot('#9d9da1', 3.5)} isAnimationActive={false} />
    <Scatter data={toRows(volcanoLeftDense)} dataKey="y" shape={dot('#9d9da1', 3.5)} isAnimationActive={false} />
    <Scatter data={toRows(volcanoRight)} dataKey="y" shape={dot('#9d9da1', 3.5)} isAnimationActive={false} />
    <Scatter data={toRows(volcanoRightDense)} dataKey="y" shape={dot('#9d9da1', 3.5)} isAnimationActive={false} />
    <ReferenceLine segment={[{ x: -1, y: -26.2 }, { x: -1, y: 400 }]} stroke="#000" strokeWidth={2} strokeDasharray="2 6.7" ifOverflow="visible" />
    <ReferenceLine segment={[{ x: 1, y: -26.2 }, { x: 1, y: 400 }]} stroke="#000" strokeWidth={2} strokeDasharray="2 6.7" ifOverflow="visible" />
    <ReferenceLine segment={[{ x: -16.82, y: 1 }, { x: 15, y: 1 }]} stroke="#000" strokeWidth={2} strokeDasharray="2 6.7" ifOverflow="visible" />
    <ReferenceLine segment={[{ x: -16.82, y: 0 }, { x: -16.82, y: 400 }]} stroke="#000" strokeWidth={3} ifOverflow="visible" />
    <ReferenceLine segment={[{ x: -15, y: -26.2 }, { x: 15, y: -26.2 }]} stroke="#000" strokeWidth={3} ifOverflow="visible" />
    <ReferenceLine segment={[{ x: 7.18, y: 213 }, { x: 8.19, y: 224 }]} stroke="#666" strokeWidth={1.5} ifOverflow="visible" />
    <ReferenceLine segment={[{ x: -5.47, y: 115 }, { x: -4.66, y: 111 }]} stroke="#444" strokeWidth={1.5} ifOverflow="visible" />
    <Scatter data={toRows(volcanoHighlights)} dataKey="y" shape={dot('#f5000f', 7.5)} isAnimationActive={false} />
  </ComposedChart>
);

const LogTick = ({ x, y, payload }: any) => {
  const major = Number.isInteger(payload.value);
  return (
    <g>
      <line x1={x} x2={x} y1={y} y2={y + (major ? 5 : 3)} stroke="#555" strokeWidth={1} />
      {major && (
        <text x={x - 3} y={y + 36} textAnchor="middle" fontFamily={FONT} fontSize={33} fill="#000">
          10<tspan dy={-13} fontSize={21}>{payload.value}</tspan>
        </text>
      )}
    </g>
  );
};

const histRows = (a: number[][], b: number[][], c: number[][]) => [
  ...a.map(([x, v]) => ({ x, red: v })),
  ...b.map(([x, v]) => ({ x, green: v })),
  ...c.map(([x, v]) => ({ x, blue: v })),
].sort((p, q) => p.x - q.x);

const Histogram = ({ rows }: any) => (
  <ComposedChart width={434} height={400} data={rows} margin={{ top: 5, right: 40, bottom: 0, left: 40 }}>
    <XAxis dataKey="x" type="number" domain={[0, 4]} ticks={logTicks} interval={0} height={58} tick={<LogTick />} tickLine={false} axisLine={false} tickSize={0} tickMargin={0} />
    <YAxis type="number" domain={[0, 100]} hide />
    <Area dataKey="red" type="linear" connectNulls fill="#ff0000" fillOpacity={0.07} stroke="#f46a6a" strokeWidth={2} dot={false} activeDot={false} isAnimationActive={false} />
    <Area dataKey="green" type="linear" connectNulls fill="#00e000" fillOpacity={0.08} stroke="#3fe03f" strokeWidth={2} dot={false} activeDot={false} isAnimationActive={false} />
    <Area dataKey="blue" type="linear" connectNulls fill="#1f78e0" fillOpacity={0.09} stroke="#3088e0" strokeWidth={2} dot={false} activeDot={false} isAnimationActive={false} />
    <ReferenceLine y={0} stroke="#1c3f7c" strokeWidth={3} />
    <ReferenceArea x1={0} x2={4} y1={0} y2={100} fill="none" stroke="#6b6b6b" strokeWidth={2} fillOpacity={0} />
  </ComposedChart>
);

const bandRows = (xs: number[], bands: Record<string, any[]>) =>
  xs.map((x, i) => {
    const row: any = { x };
    Object.keys(bands).forEach((k) => { row[k] = bands[k][i]; });
    return row;
  });

const band = (key: string, fill: string, opacity = 1) => (
  <Area key={key} dataKey={key} type="monotone" fill={fill} fillOpacity={opacity} stroke="none" dot={false} activeDot={false} isAnimationActive={false} />
);

const Day0Plot = () => (
  <ComposedChart width={374} height={373} data={bandRows(day0X, { blue: day0Blue, cyan: day0Cyan, green: day0Green, yellow: day0Yellow, red: day0Red })} margin={{ top: 0, right: 0, bottom: 0, left: 0 }}>
    <XAxis dataKey="x" type="number" domain={[0, 100]} hide />
    <YAxis type="number" domain={[0, 100]} hide />
    <ReferenceArea x1={0} x2={100} y1={0} y2={100} fill="#fff" stroke="#333" strokeWidth={2} />
    {band('blue', '#2a48ff', 0.75)}
    {band('cyan', '#22b8dc', 0.9)}
    {band('green', '#55cf72', 0.9)}
    {band('yellow', '#cfd84a', 0.9)}
    {band('red', '#ee4a2c', 0.85)}
    <Scatter data={toRows(day0Gaps)} dataKey="y" shape={pixel('#fff')} isAnimationActive={false} />
    <Scatter data={toRows(day0Dots)} dataKey="y" shape={pixel('#0000ee')} isAnimationActive={false} />
    <ReferenceLine x={49.2} stroke="#000" strokeWidth={2.5} />
    <ReferenceLine y={36} stroke="#000" strokeWidth={3} />
  </ComposedChart>
);

const Day8Plot = () => (
  <ComposedChart width={376} height={377} data={bandRows([...day8X], { navy: day8Navy, blue: day8Blue, azure: day8Azure, cyan: day8Cyan, green: day8Green, yellow: day8Yellow, red: day8Red })} margin={{ top: 1, right: 1, bottom: 1, left: 1 }}>
    <XAxis dataKey="x" type="number" domain={[0, 100]} hide />
    <YAxis type="number" domain={[0, 100]} hide />
    <ReferenceArea x1={0} x2={50} y1={36} y2={100} fill="#fff2cc" fillOpacity={1} stroke="#bf9000" strokeWidth={5} />
    <ReferenceArea x1={50} x2={100} y1={36} y2={100} fill="#fbd5bb" fillOpacity={1} stroke="#a9592b" strokeWidth={5} />
    <ReferenceArea x1={0} x2={50} y1={0} y2={36} fill="#dae3f3" fillOpacity={1} stroke="#2f5286" strokeWidth={5} />
    <ReferenceArea x1={50} x2={100} y1={0} y2={36} fill="#fff" fillOpacity={1} stroke="#222" strokeWidth={1.5} />
    {band('navy', '#0000e8')}
    {band('blue', '#0036ff')}
    {band('azure', '#0090ff')}
    {band('cyan', '#00cce0')}
    {band('green', '#20d850')}
    {band('yellow', '#e8e020')}
    {band('red', '#f02010')}
    <Scatter data={toRows(day8UpperLeft)} dataKey="y" shape={pixel('#3f35d6')} isAnimationActive={false} />
    <Scatter data={toRows(day8LowerLeft)} dataKey="y" shape={pixel('#2a2ae0')} isAnimationActive={false} />
    <Scatter data={toRows(day8LowerRight)} dataKey="y" shape={pixel('#0000f0')} isAnimationActive={false} />
    <ReferenceLine y={36} stroke="#000" strokeWidth={2} />
    <ReferenceLine x={50} stroke="#000" strokeWidth={2} />
  </ComposedChart>
);

const Day8Violet = () => (
  <ComposedChart width={376} height={377} data={bandRows(day8VioletX, { violet: day8Violet, dense: day8VioletDense })} margin={{ top: 1, right: 1, bottom: 1, left: 1 }}>
    <XAxis dataKey="x" type="number" domain={[0, 100]} hide />
    <YAxis type="number" domain={[0, 100]} hide />
    {band('violet', '#6a50c8', 0.16)}
    {band('dense', '#4532c0', 0.5)}
    <Scatter data={toRows(day8UpperRight)} dataKey="y" shape={pixel('#4536c8')} isAnimationActive={false} />
    <Scatter data={toRows(day8UpperRightDense)} dataKey="y" shape={pixel('#4536c8')} isAnimationActive={false} />
  </ComposedChart>
);

const SgVolcano = ({ domainX, ticksX, gray, green, blue, purple, dash, leaders = [], width, height, threshold }: any) => (
  <ComposedChart width={width + 90} height={height + 85} margin={{ top: 25, right: 10, bottom: 0, left: 0 }}>
    <XAxis dataKey="x" type="number" domain={domainX} ticks={ticksX} interval={0} height={60} tick={{ ...tickStyle, fontSize: 36 }} tickLine={axisStroke} axisLine={axisStroke} tickSize={9} tickMargin={6} />
    <YAxis type="number" domain={[0, 8]} ticks={[0, 2, 4, 6, 8]} interval={0} width={80} tick={{ ...tickStyle, fontSize: 36 }} tickLine={axisStroke} axisLine={axisStroke} tickSize={9} tickMargin={6} />
    <ReferenceLine x={0} stroke="#111" strokeWidth={2} strokeDasharray={dash} />
    <ReferenceLine segment={threshold} stroke="#111" strokeWidth={2} strokeDasharray={dash} ifOverflow="visible" />
    <Scatter data={toRows(gray)} dataKey="y" shape={dot('none', 7, '#d8d8d8', 2)} isAnimationActive={false} />
    {leaders.map((l: number[][], i: number) => (
      <ReferenceLine key={i} segment={[{ x: l[0][0], y: l[0][1] }, { x: l[1][0], y: l[1][1] }]} stroke="#000" strokeWidth={2} ifOverflow="visible" />
    ))}
    <Scatter data={toRows(green)} dataKey="y" shape={dot('#93e893', 7, '#c0c8b8', 1.5)} isAnimationActive={false} />
    <Scatter data={toRows(blue)} dataKey="y" shape={dot('#4f96ee', 7)} isAnimationActive={false} />
    <Scatter data={toRows(purple)} dataKey="y" shape={dot('#ab55c8', 7, '#c8c8c8', 1)} isAnimationActive={false} />
  </ComposedChart>
);

const barRows = (positions: number[], values: number[], high: number[], low: number[]) =>
  positions.map((x, i) => ({ x, value: values[i], err: [values[i] - low[i], high[i] - values[i]] }));

const AbundancePanel = ({ width, height, plotLeft, slots, yMax, yTicks, ticksX, rows, input, highLow, lowLow, highHigh, labelShift, sgMargin }: any) => (
  <ComposedChart width={width} height={height} data={rows} margin={{ top: 25, right: 10, bottom: 0, left: 0 }}>
    <XAxis dataKey="x" type="number" domain={[0, slots]} ticks={ticksX} interval={0} height={60} tickFormatter={(v: number) => sgNames[ticksX.indexOf(v)]} tick={{ ...tickStyle, fontSize: 37, dx: -11 }} tickLine={axisStroke} axisLine={axisStroke} tickSize={9} tickMargin={sgMargin} />
    <YAxis type="number" domain={[0, yMax]} ticks={yTicks} interval={0} width={plotLeft} tick={{ ...tickStyle, fontSize: 35, dy: labelShift }} tickLine={axisStroke} axisLine={axisStroke} tickSize={9} tickMargin={6} />
    <Bar dataKey="value" shape={outlineBar} isAnimationActive={false}>
      <ErrorBar dataKey="err" width={8} stroke="#000" strokeWidth={2.5} isAnimationActive={false} />
    </Bar>
    <Scatter data={toRows(input)} dataKey="y" shape={dot('#000', 7.5)} isAnimationActive={false} />
    <Scatter data={toRows(highLow)} dataKey="y" shape={square} isAnimationActive={false} />
    <Scatter data={toRows(lowLow)} dataKey="y" shape={triUp} isAnimationActive={false} />
    <Scatter data={toRows(highHigh)} dataKey="y" shape={triDown} isAnimationActive={false} />
  </ComposedChart>
);

const uhrfPvals = [
  ['0.0023', 1310, 1010, 1], ['0.0640', 1331, 975, 2], ['0.1170', 1349, 943, 3],
  ['0.0002', 1470, 975, 1], ['0.0346', 1488, 937, 2], ['<0.0001', 1511, 904, 3],
  ['0.0006', 1618, 1108, 1], ['0.6249', 1644, 1074, 2], ['0.4026', 1665, 1037, 3],
  ['0.0227', 1786, 987, 1], ['0.1912', 1806, 948, 2], ['0.0388', 1826, 912, 3],
];
const dnmtPvals = [
  ['0.0215', 1307, 1582, 1], ['0.0992', 1333, 1546, 2], ['0.0015', 1355, 1508, 3],
  ['0.0006', 1480, 1564, 1], ['0.0693', 1506, 1529, 2], ['0.0230', 1527, 1492, 3],
  ['0.8572', 1625, 1589, 1], ['0.3688', 1652, 1554, 2], ['0.3316', 1672, 1517, 3],
  ['0.0104', 1787, 1563, 1], ['0.5469', 1814, 1528, 2], ['0.9598', 1834, 1490, 3],
];
const legendRows = [
  ['#a6a6a9', 646, 667, <>Input</>, 1457],
  ['#000000', 695, 715, <>ICAM1<Sup>high</Sup>/CD10<Sup>low</Sup></>, 1458],
  ['#90bff9', 746, 765, <>ICAM1<Sup>low</Sup>/CD10<Sup>low</Sup></>, 1455],
  ['#000080', 798, 815, <>ICAM1<Sup>high</Sup>/CD10<Sup>high</Sup></>, 1455],
];

const sgLeftLabels = [['UHRF1', 544, 1555], ['EP300', 434, 1688], ['DNTTIP2', 238, 1747], ['SCML2', 367, 1743], ['PRKDC', 407, 1773], ['PARP2', 241, 1793], ['EHMT2', 389, 1805]];
const sgRightLabels = [['UHRF1', 1110, 1558], ['DNMT1', 1051, 1649], ['SCML2', 808, 1752], ['UBR7', 930, 1747], ['APOBEC3F', 1000, 1771], ['TAF7', 819, 1791], ['RLIM', 948, 1794], ['PRKDC', 967, 1822], ['PRR14', 813, 1836], ['RING1', 917, 1845]];

const Arrow = ({ x1, y1, x2, y2, head = 16, w = 4 }: any) => {
  const a = Math.atan2(y2 - y1, x2 - x1);
  const bx = x2 - Math.cos(a) * head * 1.5;
  const by = y2 - Math.sin(a) * head * 1.5;
  const nx = -Math.sin(a) * head;
  const ny = Math.cos(a) * head;
  return (
    <g>
      <line x1={x1} y1={y1} x2={bx} y2={by} stroke="#000" strokeWidth={w} />
      <polygon points={`${x2},${y2} ${bx + nx},${by + ny} ${bx - nx},${by - ny}`} fill="#000" />
    </g>
  );
};

export default function App() {
  return (
    <div style={{ position: 'absolute', left: 0, top: 0, width: 1898, height: 2062, background: '#fff', overflow: 'hidden', fontFamily: FONT }}>
      <At x={100} y={40}><VolcanoChart /></At>
      <At x={903} y={173.7}><Histogram rows={histRows(icamMutu1, icamMutu3, icamGm)} /></At>
      <At x={1393.6} y={176}><Histogram rows={histRows(cd10Mutu1, cd10Mutu3, cd10Gm)} /></At>
      <At x={127} y={811}><Day0Plot /></At>
      <At x={682} y={808}><Day8Plot /></At>
      <At x={682} y={808}><Day8Violet /></At>
      <At x={21} y={1405.4}>
        <SgVolcano width={405} height={463} domainX={[-4, 4]} ticksX={[-4, -2, 0, 2, 4]} gray={sgLeftGray} green={sgLeftGreen} blue={sgLeftBlue} purple={sgLeftPurple} dash="2 6" threshold={[{ x: -3.8, y: 1.3 }, { x: 4, y: 1.3 }]} />
      </At>
      <At x={582} y={1408.6}>
        <SgVolcano width={406.7} height={462.7} domainX={[-3, 3]} ticksX={[-3, -2, -1, 0, 1, 2, 3]} gray={sgRightGray} green={sgRightGreen} blue={sgRightBlue} purple={sgRightPurple} dash="5 4" leaders={sgRightLeaders} threshold={[{ x: -3, y: 1.3 }, { x: 3, y: 1.3 }]} />
      </At>
      <At x={1160} y={888.5}>
        <AbundancePanel width={734} height={512.5} plotLeft={83.6} slots={18.62} yMax={10} yTicks={[0, 2, 4, 6, 8, 10]} ticksX={uhrfTicks} labelShift={2} sgMargin={6}
          rows={barRows(uhrfPositions, uhrfValues, uhrfHigh, uhrfLow)} input={uhrfInput} highLow={uhrfHighLowPts} lowLow={uhrfLowLowPts} highHigh={uhrfHighHighPts} />
      </At>
      <At x={1160} y={1476.5}>
        <AbundancePanel width={737.7} height={513.5} plotLeft={84} slots={18.71} yMax={8} yTicks={[0, 2, 4, 6, 8]} ticksX={dnmtTicks} labelShift={-5} sgMargin={3}
          rows={barRows(dnmtPositions, dnmtValues, dnmtHigh, dnmtLow)} input={dnmtInput} highLow={dnmtHighLowPts} lowLow={dnmtLowLowPts} highHigh={dnmtHighHighPts} />
      </At>

      <svg width={1898} height={2062} style={{ position: 'absolute', left: 0, top: 0, pointerEvents: 'none' }}>
        <Arrow x1={452} y1={90.5} x2={198} y2={90.5} head={13} />
        <Arrow x1={490} y1={90.5} x2={746} y2={90.5} head={13} />
        <Arrow x1={92.6} y1={1220} x2={92.6} y2={1048} head={12} />
        <Arrow x1={92.6} y1={1220} x2={300} y2={1220} head={12} />
        <Arrow x1={651} y1={1220} x2={651} y2={1048} head={12} />
        <Arrow x1={651} y1={1220} x2={857.5} y2={1220} head={12} />
        <Arrow x1={514} y1={975} x2={669} y2={976} head={12} />
        <line x1={1319} y1={146} x2={1319} y2={521} stroke="#cfcfcf" strokeWidth={1} />
        <line x1={1809} y1={146} x2={1809} y2={521} stroke="#cfcfcf" strokeWidth={1} />
        <rect x={971} y={99} width={25} height={25} fill="#ff0000" />
        <rect x={1241} y={99} width={24} height={25} fill="#92d050" />
        <rect x={1524} y={99} width={25} height={25} fill="#4472c4" />
        {legendRows.map((r: any, i) => (
          <rect key={i} x={1378} y={r[1] + 4} width={53} height={24} fill="#fff" stroke={r[0]} strokeWidth={8} />
        ))}
        <line x1={1274} y1={1416.5} x2={1822} y2={1416.5} stroke="#000" strokeWidth={3} />
        <line x1={1290} y1={2008} x2={1838} y2={2008} stroke="#000" strokeWidth={3} />
      </svg>

      <T x={54} y={20} size={36} bold>a</T>
      <T x={338} y={71}>Latency I</T>
      <T x={338} y={117}>upregulated</T>
      <T x={607} y={70}>Latency III</T>
      <T x={607} y={116}>upregulated</T>
      <T x={666} y={255}>ICAM1</T>
      <T x={343} y={388}>CD10</T>
      <T x={699} y={496} size={32}>p=0.05</T>
      <T x={55} y={278} rot={-90}>-Log<Sub>10</Sub> (p-value)</T>
      <T x={454} y={616}>Log<Sub>2</Sub> (fold change mRNA)</T>

      <T x={913} y={20} size={36} bold>b</T>
      <T x={1095} y={93}>MUTU I</T>
      <T x={1095} y={138}>(Latency I)</T>
      <T x={1379} y={93}>MUTU III</T>
      <T x={1381} y={138}>(Latency III)</T>
      <T x={1666} y={93}>GM12878</T>
      <T x={1667} y={138}>(Latency III)</T>
      <T x={1128} y={581}>ICAM-1</T>
      <T x={1626} y={581}>CD10</T>

      <T x={53} y={744} size={36} bold>c</T>
      <T x={317} y={740}>Day 0</T>
      <T x={877} y={742}>Day 8</T>
      <T x={579} y={884}>Brunello</T>
      <T x={584} y={928}>Library</T>
      <T x={770} y={848}>ICAM1+/</T>
      <T x={752} y={893}>CD10-</T>
      <T x={963} y={847}>ICAM1+/</T>
      <T x={949} y={892}>CD10+</T>
      <T x={761} y={1110}>ICAM1-</T>
      <T x={757} y={1155}>/CD10-</T>
      <T x={62} y={1157} rot={-90}>ICAM-1</T>
      <T x={623} y={1154} rot={-90}>ICAM-1</T>
      <T x={179} y={1271}>CD10</T>
      <T x={737} y={1271}>CD10</T>

      <T x={33} y={1359} size={36} bold>d</T>
      <T x={322} y={1415}>ICAM1+ CD10-</T>
      <T x={894} y={1408}>ICAM1+ CD10+</T>
      <T x={29} y={1647} rot={-90}>-Log10(p-Value)</T>
      <T x={321} y={1989}>Log<Sub>2</Sub> (sgRNA fold change)</T>
      <T x={872} y={1989}>Log<Sub>2</Sub> (sgRNA fold change)</T>
      {sgLeftLabels.map((l: any) => <T key={l[0]} x={l[1]} y={l[2]} size={33}>{l[0]}</T>)}
      {sgRightLabels.map((l: any) => <T key={l[0]} x={l[1]} y={l[2]} size={33}>{l[0]}</T>)}

      <T x={1182} y={743} size={36} bold>e</T>
      {legendRows.map((r: any, i) => (
        <div key={i} style={{ position: 'absolute', left: r[4], top: r[2] - 19, fontFamily: FONT, fontSize: 36, lineHeight: 1, whiteSpace: 'nowrap' }}>{r[3]}</div>
      ))}
      <T x={1163} y={1107} rot={-90}>Abundance</T>
      <T x={1177} y={1686} rot={-90}>Abundance</T>
      <T x={1566} y={1439}>UHRF1</T>
      <T x={1572} y={2041}>DNMT1</T>
      {[...uhrfPvals, ...dnmtPvals].map((p: any, i) => (
        <T key={i} x={p[1]} y={p[2]} color={seriesColors[p[3]]}>{p[0]}</T>
      ))}
    </div>
  );
}
